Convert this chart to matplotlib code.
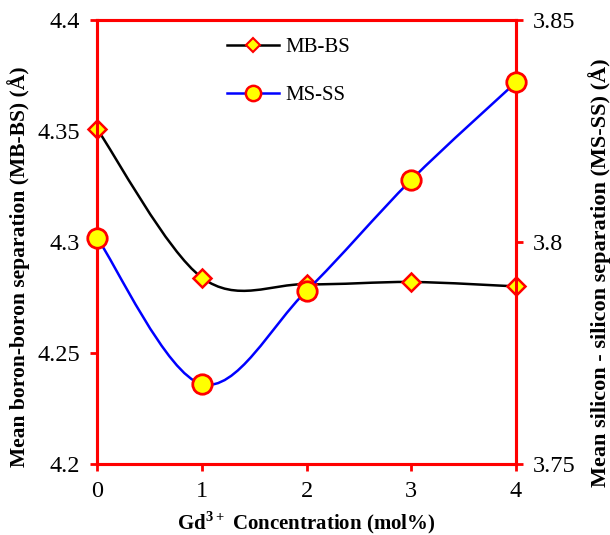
import matplotlib.pyplot as plt
from matplotlib.path import Path
from matplotlib.patches import PathPatch
from matplotlib.lines import Line2D

plt.rcParams['font.family'] = ['Liberation Serif', 'DejaVu Serif']
plt.rcParams['mathtext.fontset'] = 'custom'
plt.rcParams['mathtext.rm'] = 'Liberation Serif'
plt.rcParams['mathtext.bf'] = 'Liberation Serif:bold'

gd = [0, 1, 2, 3, 4]
mb_bs = [4.351, 4.284, 4.281, 4.282, 4.280]
ms_ss = [3.801, 3.768, 3.789, 3.814, 3.836]

red = '#ff0000'


def smooth_path(xs, ys):
    # Catmull-Rom style bezier through the points (spreadsheet "smoothed line")
    pts = list(zip(xs, ys))
    verts = [pts[0]]
    codes = [Path.MOVETO]
    n = len(pts)
    for i in range(n - 1):
        p0 = pts[i - 1] if i > 0 else pts[i]
        p1 = pts[i]
        p2 = pts[i + 1]
        p3 = pts[i + 2] if i + 2 < n else pts[i + 1]
        c1 = (p1[0] + (p2[0] - p0[0]) / 6, p1[1] + (p2[1] - p0[1]) / 6)
        c2 = (p2[0] - (p3[0] - p1[0]) / 6, p2[1] - (p3[1] - p1[1]) / 6)
        verts += [c1, c2, p2]
        codes += [Path.CURVE4] * 3
    return Path(verts, codes)


fig = plt.figure(figsize=(6.1, 5.35), dpi=100)
ax = fig.add_axes([0.159, 0.1327, 0.687, 0.8299])
ax2 = ax.twinx()

ax.add_patch(PathPatch(smooth_path(gd, mb_bs), fill=False, edgecolor='black', lw=1.8, zorder=2))
ax.plot(gd, mb_bs, ls='none', marker='D', ms=9, mfc='yellow', mec=red, mew=1.8,
        clip_on=False, zorder=3)

ax2.add_patch(PathPatch(smooth_path(gd, ms_ss), fill=False, edgecolor='blue', lw=1.8, zorder=2))
ax2.plot(gd, ms_ss, ls='none', marker='o', ms=14, mfc='yellow', mec=red, mew=2,
         clip_on=False, zorder=3)

ax.set_xlim(0, 4)
ax.set_ylim(4.2, 4.4)
ax2.set_ylim(3.75, 3.85)
ax.set_xticks(gd)
ax.set_yticks([4.2, 4.25, 4.3, 4.35, 4.4])
ax.set_yticklabels(['4.2', '4.25', '4.3', '4.35', '4.4'])
ax2.set_yticks([3.75, 3.8, 3.85])
ax2.set_yticklabels(['3.75', '3.8', '3.85'])

for a in (ax, ax2):
    for s in a.spines.values():
        s.set_color(red)
        s.set_linewidth(2.2)
    a.tick_params(colors=red, labelcolor='black', width=2, length=5, labelsize=17.5,
                  direction='out', pad=7)

ax.set_xlabel('Gd$^{\\mathbf{3+}}$ Concentration (mol%)', fontsize=15, fontweight='bold')
ax.xaxis.set_label_coords(0.5, -0.102)
ax.set_ylabel('Mean boron-boron separation (MB-BS) (Å)', fontsize=15.5, fontweight='bold')
ax.yaxis.set_label_coords(-0.16, 0.445)
ax2.set_ylabel('Mean silicon - silicon separation (MS-SS) (Å)', fontsize=16, fontweight='bold',
               rotation=90)
ax2.yaxis.set_label_coords(1.172, 0.43)

handles = [
    Line2D([], [], color='black', lw=1.8, marker='D', ms=7, mfc='yellow', mec=red, mew=1.5),
    Line2D([], [], color='blue', lw=1.8, marker='o', ms=11, mfc='yellow', mec=red, mew=1.8),
]
ax2.legend(handles, ['MB-BS', 'MS-SS'], loc='upper left', bbox_to_anchor=(0.31, 0.96),
           frameon=False, fontsize=15, handlelength=2.5, handletextpad=0.3,
           labelspacing=1.35, borderpad=0, borderaxespad=0)

fig.savefig('out.png', dpi=100)
